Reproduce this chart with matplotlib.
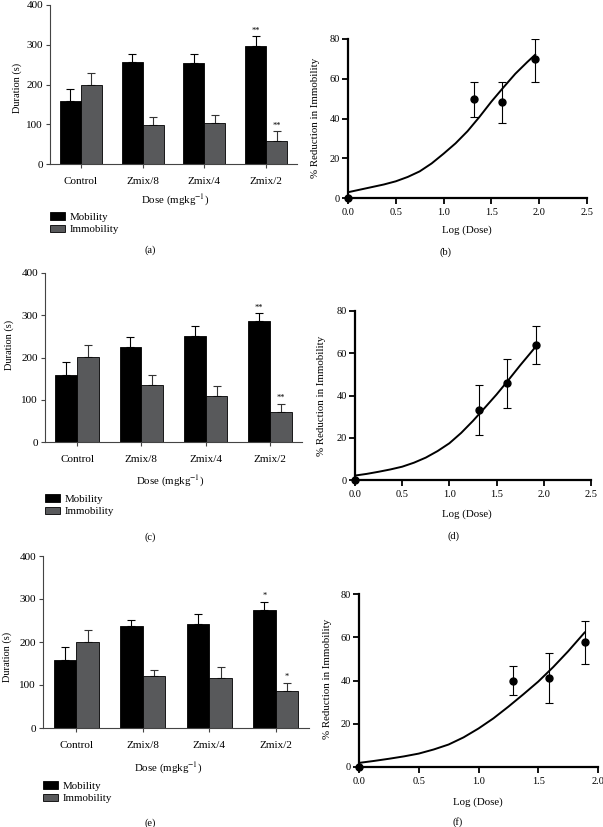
import numpy as np
import matplotlib
matplotlib.use("Agg")
import matplotlib.pyplot as plt
from matplotlib.patches import Patch

plt.rcParams['font.family'] = ['Liberation Serif', 'DejaVu Serif']
plt.rcParams['mathtext.fontset'] = 'stix'

# ---- data ----
groups = ["Control", "Zmix/8", "Zmix/4", "Zmix/2"]

a_mob = [159, 256, 254, 298]
a_mob_err = [29, 20, 22, 24]
a_imm = [200, 99, 102, 59]
a_imm_err = [30, 19, 22, 24]
a_stars = "**"

c_mob = [159, 224, 250, 286]
c_mob_err = [30, 24, 24, 19]
c_imm = [201, 134, 108, 72]
c_imm_err = [29, 25, 25, 19]
c_stars = "**"

e_mob = [158, 238, 242, 274]
e_mob_err = [30, 14, 23, 20]
e_imm = [200, 120, 117, 85]
e_imm_err = [29, 15, 25, 20]
e_stars = "*"

b_x = [0, 1.316, 1.611, 1.958]
b_y = [0, 49.7, 48.2, 69.8]
b_lo = [0, 40.8, 37.9, 58.6]
b_hi = [0, 58.2, 58.2, 80.0]
b_fit_x = [0, 0.125, 0.25, 0.375, 0.5, 0.625, 0.75, 0.875, 1.0, 1.125, 1.25, 1.375,
           1.5, 1.625, 1.75, 1.875, 1.958]
b_fit_y = [2.9, 4.2, 5.5, 6.8, 8.4, 10.6, 13.4, 17.4, 22.3, 27.5, 33.6, 40.8,
           48.5, 55.6, 62.5, 68.4, 72.1]

d_x = [0, 1.311, 1.611, 1.919]
d_y = [0, 32.9, 45.7, 63.9]
d_lo = [0, 21.2, 34.0, 54.9]
d_hi = [0, 44.9, 57.5, 72.7]
d_fit_x = [0, 0.125, 0.25, 0.375, 0.5, 0.625, 0.75, 0.875, 1.0, 1.125, 1.25, 1.375,
           1.5, 1.625, 1.75, 1.875, 1.919]
d_fit_y = [2.1, 2.9, 3.9, 5.0, 6.3, 8.2, 10.6, 13.7, 17.4, 22.3, 28.0, 34.2,
           40.5, 47.3, 54.3, 61.0, 63.4]

f_x = [0, 1.288, 1.589, 1.888]
f_y = [0, 39.9, 41.0, 57.6]
f_lo = [0, 33.3, 29.4, 47.8]
f_hi = [0, 46.7, 52.8, 67.5]
f_fit_x = [0, 0.125, 0.25, 0.375, 0.5, 0.625, 0.75, 0.875, 1.0, 1.125, 1.25, 1.375,
           1.5, 1.625, 1.75, 1.888]
f_fit_y = [1.9, 2.8, 3.8, 4.9, 6.2, 8.1, 10.4, 13.7, 17.8, 22.5, 27.9, 33.6,
           39.5, 46.2, 53.5, 62.2]

W, H = 603, 827
fig = plt.figure(figsize=(W / 100, H / 100), dpi=100)


def rect(l, r, t, b):
    return [l / W, 1 - b / H, (r - l) / W, (b - t) / H]


def ftext(x, y, s, **kw):
    fig.text(x / W, 1 - y / H, s, ha='center', va='center', **kw)


IMM_COLOR = '#58595b'


def bar_panel(box, mob, mob_err, imm, imm_err, stars, letter, ylab_x, ylab_y,
              dose_y, leg_y, letter_y):
    ax = fig.add_axes(rect(*box))
    x = np.arange(len(groups))
    w = 0.34
    ax.bar(x - w / 2, mob, w, color='black', edgecolor='black', linewidth=0.6, zorder=2)
    ax.bar(x + w / 2, imm, w, color=IMM_COLOR, edgecolor='black', linewidth=0.6, zorder=2)
    z = np.zeros(len(x))
    ax.errorbar(x - w / 2, mob, yerr=[z, mob_err], fmt='none', ecolor='black',
                elinewidth=0.8, capsize=3.2, capthick=0.8, zorder=1)
    ax.errorbar(x + w / 2, imm, yerr=[z, imm_err], fmt='none', ecolor='#333333',
                elinewidth=0.8, capsize=3.2, capthick=0.8, zorder=1)
    ax.text(x[-1] - w / 2, mob[-1] + mob_err[-1] + 4, stars, ha='center', va='bottom', fontsize=6)
    ax.text(x[-1] + w / 2, imm[-1] + imm_err[-1] + 4, stars, ha='center', va='bottom', fontsize=6)
    ax.set_xlim(-0.5, 3.5)
    ax.set_ylim(0, 400)
    ax.set_yticks([0, 100, 200, 300, 400])
    ax.set_xticks(x)
    ax.set_xticklabels(groups)
    for s in ['top', 'right']:
        ax.spines[s].set_visible(False)
    for s in ['left', 'bottom']:
        ax.spines[s].set_color('#444444')
        ax.spines[s].set_linewidth(0.8)
    ax.tick_params(direction='out', length=3, width=0.8, color='#444444',
                   labelsize=8, pad=2)
    ax.tick_params(axis='x', pad=6)
    ftext(ylab_x, ylab_y, "Duration (s)", rotation=90, fontsize=7.5)
    ftext(box[0] + 125, dose_y, "Dose (mgkg$^{-1}$)", fontsize=7.8)
    handles = [Patch(facecolor='black', edgecolor='black', linewidth=0.6, label='Mobility'),
               Patch(facecolor=IMM_COLOR, edgecolor='black', linewidth=0.6, label='Immobility')]
    fig.legend(handles=handles, loc='upper left', bbox_to_anchor=(box[0] / W, 1 - leg_y / H),
               frameon=False, fontsize=7.8, handlelength=1.4, handleheight=0.7,
               handletextpad=0.4, labelspacing=0.3, borderpad=0, borderaxespad=0)
    ftext(150, letter_y, letter, fontsize=7.5)
    return ax


def curve_panel(box, xmax, px, py, lo, hi, fx, fy, letter, ylab_x, ylab_y,
                logd_x, logd_y, letter_x, letter_y):
    ax = fig.add_axes(rect(*box))
    px = np.array(px)
    py = np.array(py)
    ax.plot(fx, fy, color='black', linewidth=1.4, zorder=2)
    yerr = [py - np.array(lo), np.array(hi) - py]
    ax.errorbar(px[1:], py[1:], yerr=[yerr[0][1:], yerr[1][1:]], fmt='o', color='black',
                markersize=5, elinewidth=0.8, capsize=3, capthick=0.8, zorder=3)
    ax.plot(px[:1], py[:1], 'o', color='black', markersize=5, clip_on=False, zorder=4)
    ax.set_xlim(0, xmax)
    ax.set_ylim(0, 80)
    ax.set_xticks(np.arange(0, xmax + 0.01, 0.5))
    ax.set_xticklabels(["%.1f" % v for v in np.arange(0, xmax + 0.01, 0.5)])
    ax.set_yticks([0, 20, 40, 60, 80])
    for s in ['top', 'right']:
        ax.spines[s].set_visible(False)
    for s in ['left', 'bottom']:
        ax.spines[s].set_linewidth(1.6)
    ax.tick_params(direction='out', length=4, width=1.3, labelsize=7.5, pad=2)
    ax.tick_params(axis='x', pad=3)
    ftext(ylab_x, ylab_y, "% Reduction in Immobility", rotation=90, fontsize=7.8)
    ftext(logd_x, logd_y, "Log (Dose)", fontsize=7.8)
    ftext(letter_x, letter_y, letter, fontsize=7.5)
    return ax


bar_panel((50, 297, 5, 164), a_mob, a_mob_err, a_imm, a_imm_err, a_stars, "(a)",
          17, 88, 200, 212, 250)
bar_panel((45, 302, 273, 442), c_mob, c_mob_err, c_imm, c_imm_err, c_stars, "(c)",
          9, 345, 481, 494, 537)
bar_panel((43, 309, 556, 728), e_mob, e_mob_err, e_imm, e_imm_err, e_stars, "(e)",
          7, 657, 768, 781, 823)

curve_panel((348, 587, 39, 198), 2.5, b_x, b_y, b_lo, b_hi, b_fit_x, b_fit_y, "(b)",
            316, 118, 467, 230, 446, 252)
curve_panel((355, 591, 311, 480), 2.5, d_x, d_y, d_lo, d_hi, d_fit_x, d_fit_y, "(d)",
            322, 396, 467, 514, 454, 536)
curve_panel((359, 598, 594, 767), 2.0, f_x, f_y, f_lo, f_hi, f_fit_x, f_fit_y, "(f)",
            327, 679, 478, 802, 458, 822)

fig.savefig("out.png", dpi=100)
